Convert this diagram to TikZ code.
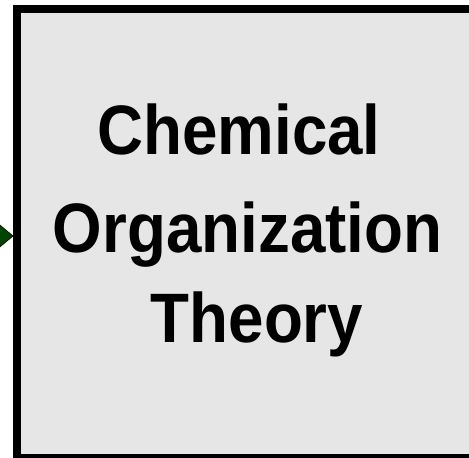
\documentclass[tikz,border=0pt]{standalone}
\usepackage{fontspec}
\newfontfamily\hfont[FakeStretch=0.91]{Liberation Sans}
\usetikzlibrary{arrows.meta}
\definecolor{boxgray}{RGB}{230,230,230}
\definecolor{arrowgreen}{RGB}{0,70,0}
\tikzset{
  bigbox/.style={draw=black, line width=8pt, fill=boxgray, minimum width=458pt, minimum height=449pt, inner sep=0pt},
  title/.style={font=\hfont\bfseries\fontsize{70}{70}\selectfont, anchor=base, inner sep=0pt},
  inarrow/.style={draw=black, line width=0.6pt, fill=arrowgreen, -{Triangle[length=18pt,width=30pt,fill=arrowgreen]}}
}
\begin{document}
\begin{tikzpicture}[x=1pt,y=1pt]
\useasboundingbox (0,0) rectangle (469,458);
\node[bigbox] (box) at (246,224.5) {};
\node[title] (l1) at (239,303) {Chemical};
\node[title] (l2) at (247.5,205) {Organization};
\node[title] (l3) at (257,115) {Theory};
\coordinate (src) at (-60,222);
\coordinate (dst) at (13.5,222);
\draw[inarrow] (src) -- (dst);
\end{tikzpicture}
\end{document}
